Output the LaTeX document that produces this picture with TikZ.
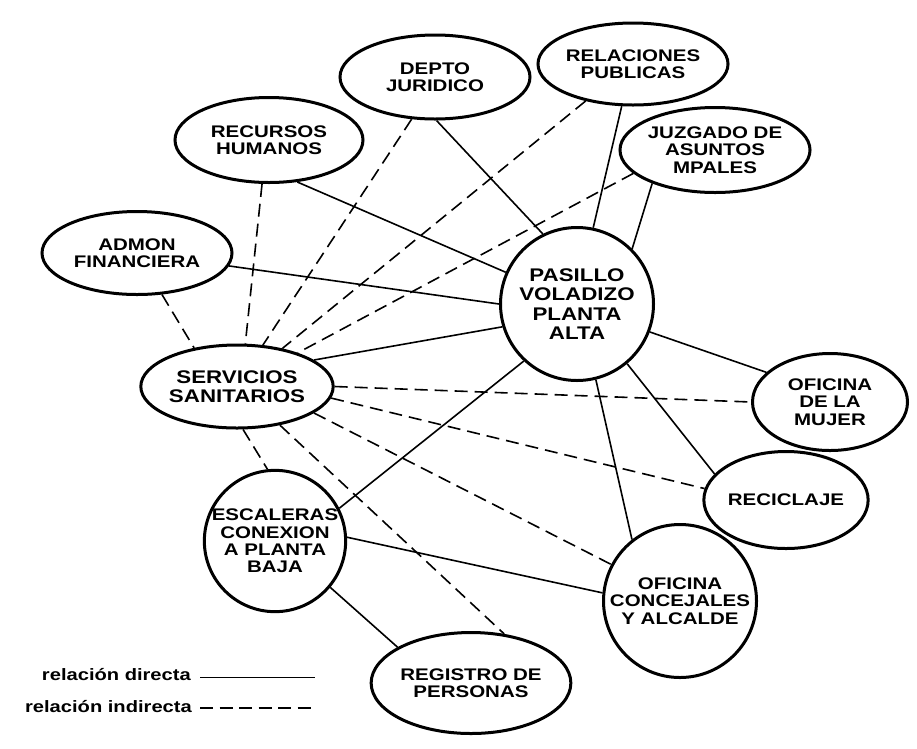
\documentclass[tikz,border=0pt]{standalone}
\usepackage{fontspec}
\setmainfont{Liberation Sans}[FakeStretch=1.22]
\usetikzlibrary{shapes.geometric}
\begin{document}
\begin{tikzpicture}[x=1pt,y=-1pt,
  box/.style={ellipse, draw, line width=3pt, inner sep=0pt, align=center,
    font=\fontsize{16.8}{17.5}\selectfont\bfseries},
  bigbox/.style={box, font=\fontsize{18.3}{19}\selectfont\bfseries},
  circ/.style={circle, draw, line width=3pt, inner sep=0pt, align=center,
    font=\fontsize{16.8}{17.3}\selectfont\bfseries},
  bigcirc/.style={circ, font=\fontsize{18.3}{19.3}\selectfont\bfseries},
  dir/.style={line width=1.6pt},
  ind/.style={line width=1.6pt, dash pattern=on 13pt off 7pt},
  legtext/.style={anchor=base east, inner sep=0pt, font=\fontsize{16.5}{18}\selectfont\bfseries},
]
\useasboundingbox[fill=white] (0,0) rectangle (917,748);

% nodes
\node[box, minimum width=190pt, minimum height=84pt] (dep) at (435,77) {DEPTO\\JURIDICO};
\node[box, minimum width=186pt, minimum height=82pt] (rel) at (633,64) {RELACIONES\\PUBLICAS};
\node[box, minimum width=188pt, minimum height=85pt] (rrhh) at (269,140) {RECURSOS\\HUMANOS};
\node[box, minimum width=190pt, minimum height=85pt] (juz) at (715,150) {JUZGADO DE\\ASUNTOS\\MPALES};
\node[box, minimum width=190pt, minimum height=83pt] (adm) at (137,253) {ADMON\\FINANCIERA};
\node[bigcirc, minimum size=153pt] (pas) at (577,304) {PASILLO\\VOLADIZO\\PLANTA\\ALTA};
\node[bigbox, minimum width=190pt, minimum height=83pt] (ser) at (237,386.5) {SERVICIOS\\SANITARIOS};
\node[box, minimum width=155pt, minimum height=97pt] (muj) at (830,402) {OFICINA\\DE LA\\MUJER};
\node[box, minimum width=144pt, minimum height=97pt] (rec) at (786,500) {RECICLAJE};
\node[circ, minimum size=153pt] (con) at (680,601) {OFICINA\\CONCEJALES\\Y ALCALDE};
\node[circ, minimum size=141pt] (esc) at (275,541) {ESCALERAS\\CONEXION\\A PLANTA\\BAJA};
\node[box, minimum width=188pt, minimum height=101pt] (reg) at (471,683) {REGISTRO DE\\PERSONAS};

% direct relations
\draw[dir] (dep.-88) -- (pas.116);
\draw[dir] (rel.-105) -- (pas.78);
\draw[dir] (juz.-152) -- (pas.45);
\draw[dir] (rrhh.-56) -- (pas.156);
\draw[dir] (adm.-8) -- (pas.180);
\draw[dir] (ser.19) -- (pas.197);
\draw[dir] (pas.-21) -- (muj.155);
\draw[dir] (pas.-50) -- (rec.160);
\draw[dir] (pas.-76) -- (con.128);
\draw[dir] (pas.-133) -- (esc.27);
\draw[dir] (esc.3) -- (con.174);
\draw[dir] (esc.-40) -- (reg.154);

% indirect relations
\draw[ind] (adm.-59) -- (ser.138);
\draw[ind] (rrhh.-99) -- (ser.79);
\draw[ind] (dep.-119) -- (ser.58);
\draw[ind] (rel.-142) -- (ser.40);
\draw[ind] (juz.-164) -- (ser.29.5);
\draw[ind] (ser.0) -- (muj.180);
\draw[ind] (ser.-7) -- (rec.172);
\draw[ind] (ser.-19.5) -- (con.152);
\draw[ind] (ser.-82) -- (esc.96);
\draw[ind] (ser.-42) -- (reg.56);

% legend
\node[legtext] (t1) at (191,680) {relación directa};
\node[legtext] (t2) at (192,712) {relación indirecta};
\coordinate (l1a) at (200,677.5);
\coordinate (l1b) at (315,677.5);
\coordinate (l2a) at (200,708);
\coordinate (l2b) at (315,708);
\draw[dir] (l1a) -- (l1b);
\draw[ind, dash pattern=on 13pt off 6.5pt] (l2a) -- (l2b);
\end{tikzpicture}
\end{document}
